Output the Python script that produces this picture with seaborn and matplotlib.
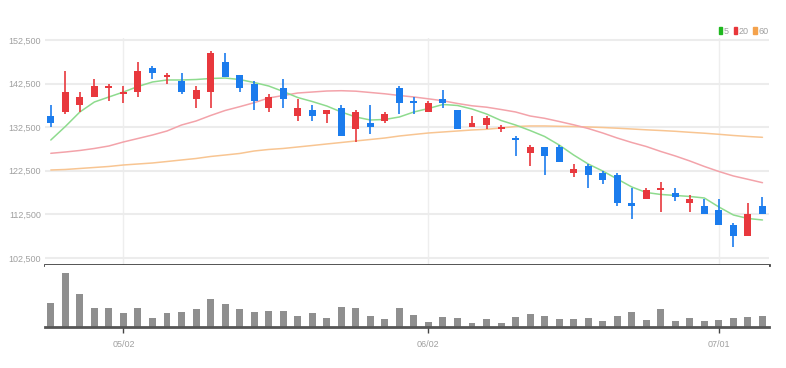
import numpy as np
import pandas as pd
import matplotlib
matplotlib.use('Agg')
from matplotlib import pyplot as plt
from matplotlib.patches import Patch
import seaborn as sns

# daily candles, 2022-04-25 .. 2022-07-06 (50 trading days)
opens = [135000, 136000, 137500, 139500, 141500, 140000, 140500, 146000, 144000, 143000,
         139000, 140500, 147500, 144500, 142500, 137000, 141500, 135000, 136500, 135500,
         137000, 132000, 133500, 134000, 141500, 138500, 136000, 139000, 136500, 132500,
         133000, 132000, 130000, 126500, 128000, 128000, 122000, 123500, 122000, 121500,
         115000, 116000, 118000, 117500, 115000, 114500, 113500, 110000, 107500, 114500]
closes = [133500, 140500, 139500, 142000, 142000, 140500, 145500, 145000, 144500, 140500,
          141000, 149500, 144000, 141500, 138500, 139500, 139000, 137000, 135000, 136500,
          130500, 136000, 132500, 135500, 138000, 138000, 138000, 138000, 132000, 133500,
          134500, 132500, 129500, 128000, 126000, 124500, 123000, 121500, 120500, 115000,
          114500, 118000, 118500, 116500, 116000, 112500, 110000, 107500, 112500, 112500]
highs = [137500, 145500, 140500, 143500, 142500, 142000, 147500, 146500, 145000, 145000,
         142000, 150000, 149500, 144500, 143000, 140000, 143500, 139000, 137500, 136500,
         137500, 136500, 137500, 136000, 142000, 139500, 138500, 141000, 136500, 135000,
         135000, 133000, 130500, 128500, 128000, 128500, 124000, 124000, 122500, 122000,
         118500, 118500, 120000, 118500, 117000, 116000, 116000, 110500, 115000, 116500]
lows = [132500, 135500, 136000, 139500, 138500, 138000, 139500, 143500, 142500, 140000,
        137000, 137000, 144000, 140500, 136500, 136000, 137000, 134000, 134000, 133500,
        130500, 129000, 131000, 133500, 135500, 135500, 136000, 137000, 132000, 132500,
        132000, 131500, 126000, 123500, 121500, 124500, 121000, 118500, 119500, 114500,
        111500, 116000, 113000, 115500, 113000, 112500, 110000, 105000, 107500, 112500]

# moving averages as drawn
ma5 = [129560, 132660, 135990, 138280, 139430, 140570, 141840, 142870, 143330, 143330,
       143440, 143670, 143780, 143440, 142750, 141950, 140690, 139310, 138390, 137360,
       135990, 134840, 134150, 134270, 134840, 135990, 136790, 137710, 137480, 136670,
       135530, 134040, 133000, 131740, 130370, 128420, 126120, 124060, 122450, 120620,
       118790, 117520, 117070, 116840, 116610, 116260, 114200, 112360, 111560, 111220]
ma20 = [126510, 126810, 127160, 127620, 128190, 129110, 129910, 130710, 131630, 133000,
        133920, 135180, 136330, 137200, 138120, 139200, 139770, 140340, 140570, 140800,
        140870, 140760, 140460, 140160, 139770, 139430, 139010, 138560, 137940, 137410,
        137090, 136560, 135990, 135070, 134540, 133810, 133050, 132200, 131170, 130020,
        128990, 128070, 126930, 125900, 124750, 123490, 122340, 121310, 120550, 119770]
ma60 = [122680, 122800, 123030, 123260, 123490, 123830, 124060, 124290, 124630, 124980,
        125320, 125780, 126120, 126470, 127040, 127390, 127620, 127960, 128300, 128650,
        128990, 129340, 129680, 130020, 130480, 130830, 131170, 131400, 131630, 131860,
        132020, 132320, 132660, 132780, 132780, 132710, 132660, 132550, 132430, 132270,
        132090, 131900, 131740, 131560, 131330, 131120, 130870, 130600, 130370, 130180]

# volume (thousand shares)
volume = [246, 546, 330, 190, 196, 140, 196, 96, 140, 156,
          180, 280, 230, 180, 156, 163, 163, 113, 146, 90,
          206, 190, 113, 80, 190, 123, 56, 106, 90, 46,
          80, 46, 106, 130, 113, 80, 80, 96, 63, 113,
          150, 73, 180, 63, 96, 63, 73, 90, 100, 113]

tick_pos = [5, 26, 46]
tick_labels = ['05/02', '06/02', '07/01']
price_ticks = [102500, 112500, 122500, 132500, 142500, 152500]

RED = '#e8383d'
BLUE = '#1b7ced'
GREY_TXT = '#a0a0a0'

df = pd.DataFrame({'idx': np.arange(len(opens)), 'open': opens, 'close': closes,
                   'high': highs, 'low': lows, 'volume': volume,
                   'ma5': ma5, 'ma20': ma20, 'ma60': ma60})

sns.set_theme(style='white')
plt.rcParams['font.family'] = ['Liberation Sans', 'DejaVu Sans']

fig = plt.figure(figsize=(7.86, 3.68), dpi=100)
fig.patch.set_facecolor('white')
ax = fig.add_axes([45 / 786, 1 - 265 / 368, 724 / 786, 227 / 368])
axv = fig.add_axes([45 / 786, 1 - 327.3 / 368, 724 / 786, 62.3 / 368])

# moving averages
sns.lineplot(data=df, x='idx', y='ma60', ax=ax, color='#f8c592', linewidth=1.1, zorder=2)
sns.lineplot(data=df, x='idx', y='ma20', ax=ax, color='#f3a3aa', linewidth=1.1, zorder=2)
sns.lineplot(data=df, x='idx', y='ma5', ax=ax, color='#8edb8e', linewidth=1.1, zorder=2)

# candles
up = df['close'] >= df['open']
colors = np.where(up, RED, BLUE)
ax.vlines(df['idx'], df['low'], df['high'], colors=colors, linewidth=1.2, zorder=3)
body_h = (df['close'] - df['open']).abs().clip(lower=300)
ax.bar(df['idx'], body_h, bottom=df[['open', 'close']].min(axis=1), width=0.48,
       color=colors, zorder=4, linewidth=0)

ax.set_xlim(-0.4, 49.45)
ax.set_ylim(100890, 152960)
ax.set_yticks(price_ticks)
ax.set_yticklabels([f'{v:,}' for v in price_ticks])
ax.set_xticks(tick_pos)
ax.tick_params(axis='x', labelbottom=False, length=0)
ax.tick_params(axis='y', length=0, pad=3, labelsize=6.5, labelcolor=GREY_TXT)
ax.yaxis.grid(True, color='#ececec', linewidth=1.5)
ax.xaxis.grid(True, color='#eeeeee', linewidth=1)
ax.set_xlabel('')
ax.set_ylabel('')
for s in ['top', 'right', 'left']:
    ax.spines[s].set_visible(False)
ax.spines['bottom'].set_color('#444444')
ax.spines['bottom'].set_linewidth(2)

handles = [Patch(color='#1fb81f'), Patch(color='#e8363a'), Patch(color='#f4a24c')]
leg = ax.legend(handles, ['5', '20', '60'], loc='lower right', bbox_to_anchor=(1.0, 1.01),
                ncol=3, frameon=False, fontsize=6.5, handlelength=0.4, handleheight=0.9,
                handletextpad=0.2, columnspacing=0.5, borderaxespad=0, borderpad=0)
for t in leg.get_texts():
    t.set_color(GREY_TXT)

# volume
sns.barplot(data=df, x='idx', y='volume', ax=axv, native_scale=True, width=0.48,
            color='#8f8f8f', saturation=1, linewidth=0)
axv.set_xlim(-0.4, 49.45)
axv.set_ylim(0, 623)
axv.set_yticks([])
axv.set_xticks(tick_pos)
axv.set_xticklabels(tick_labels)
axv.tick_params(axis='x', length=4, width=1, color='#444444', direction='out',
                pad=5, labelsize=6.5, labelcolor=GREY_TXT, bottom=True)
axv.set_xlabel('')
axv.set_ylabel('')
for s in ['top', 'right', 'left']:
    axv.spines[s].set_visible(False)
axv.spines['bottom'].set_color('#555555')
axv.spines['bottom'].set_linewidth(2)

fig.savefig('out.png', dpi=100, facecolor='white')
